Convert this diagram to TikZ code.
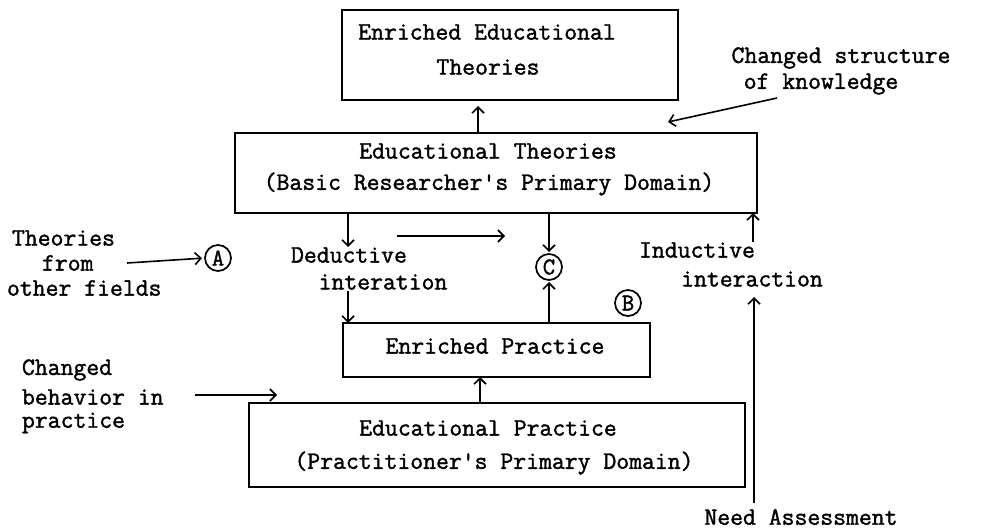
\documentclass[tikz,border=0pt]{standalone}
\usepackage{fontspec}
\setmonofont{Latin Modern Mono}[FakeBold=1.5]
\usetikzlibrary{arrows.meta,calc}
\begin{document}
\begin{tikzpicture}[x=1pt,y=-1pt,
  every node/.style={inner sep=0pt, outer sep=0pt},
  lbl/.style={font=\ttfamily\fontsize{25}{30}\selectfont, anchor=center},
  lbll/.style={lbl, anchor=west},
  box/.style={draw, line width=1.7pt, rectangle},
  arr/.style={line width=1.6pt, -{Straight Barb[length=6pt,width=12pt]}},
  circ/.style={draw, circle, line width=1.7pt, minimum size=26pt, font=\ttfamily\fontsize{24}{26}\selectfont},
]
\useasboundingbox[fill=white] (0,0) rectangle (982,529);

% boxes
\node[box, minimum width=336pt, minimum height=90pt] (b1) at (510,55) {};
\node[box, minimum width=522pt, minimum height=80pt] (b2) at (496,173) {};
\node[box, minimum width=307pt, minimum height=54pt] (b3) at (496.5,350) {};
\node[box, minimum width=496pt, minimum height=84pt] (b4) at (497,445) {};

% box texts
\node[lbl] (t1a) at (487,32) {Enriched Educational};
\node[lbl] (t1b) at (488,67) {Theories};
\node[lbl] (t2a) at (488,151) {Educational Theories};
\node[lbl] (t2b) at (489,184) {(Basic Researcher's Primary Domain)};
\node[lbl] (t3) at (495,346) {Enriched Practice};
\node[lbl] (t4a) at (488,428) {Educational Practice};
\node[lbl] (t4b) at (494,463) {(Practitioner's Primary Domain)};

% side texts
\node[lbll] (th1) at (12,238) {Theories};
\node[lbll] (th2) at (42,263) {from};
\node[lbll] (th3) at (7,288) {other fields};
\node[lbl] (ded1) at (349,255) {Deductive};
\node[lbl] (ded2) at (383,282) {interation};
\node[lbl] (ind1) at (697,250) {Inductive};
\node[lbl] (ind2) at (752,279) {interaction};
\node[lbl] (cs1) at (841,58) {Changed structure};
\node[lbl] (cs2) at (821,84) {of knowledge};
\node[lbll] (cb1) at (22,370) {Changed};
\node[lbll] (cb2) at (22,397) {behavior in};
\node[lbll] (cb3) at (22,423) {practice};
\node[lbl] (na) at (801,517) {Need Assessment};

% circled letters
\node[circ] (A) at (218,258) {A};
\node[circ] (C) at (549,267) {C};
\node[circ] (B) at (628,303) {B};

% coordinates for free ends
\coordinate (axis) at (478,0);
\coordinate (axis2) at (480,0);
\coordinate (dx) at (348,0);
\coordinate (ix) at (753,0);
\coordinate (fromS) at (127,263);
\coordinate (dedT) at (348,247);
\coordinate (dedS) at (348,291);
\coordinate (hS) at (397,236);
\coordinate (hE) at (505,236);
\coordinate (indS) at (753,242);
\coordinate (naS) at (754,503);
\coordinate (naE) at (754,297);
\coordinate (csS) at (777,98);
\coordinate (csE) at (668,122);
\coordinate (cbS) at (195,395);
\coordinate (cbE) at (277,395);

% connectors
\draw[arr, shorten >=6pt] (b2.north -| axis) -- (b1.south -| axis);
\draw[arr] (csS) -- (csE);
\draw[arr] (b2.south -| dx) -- (dedT);
\draw[arr] (dedS) -- (b3.north -| dx);
\draw[arr] (hS) -- (hE);
\draw[arr, shorten >=2pt] (b2.south -| C) -- (C.north);
\draw[arr, shorten >=2pt] (b3.north -| C) -- (C.south);
\draw[arr, shorten >=3pt] (fromS) -- (A.west);
\draw[arr] (indS) -- (b2.south -| ix);
\draw[arr] (naS) -- (naE);
\draw[arr] (b4.north -| axis2) -- (b3.south -| axis2);
\draw[arr] (cbS) -- (cbE);
\end{tikzpicture}
\end{document}
